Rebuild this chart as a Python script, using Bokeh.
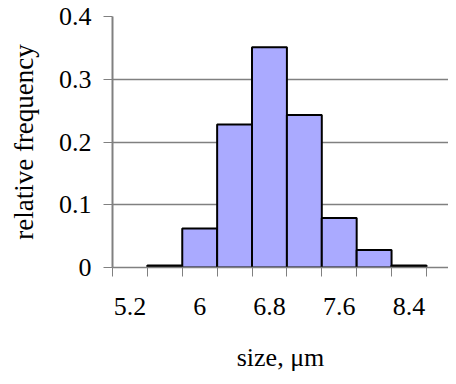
from bokeh.plotting import figure
from bokeh.models import FixedTicker, Range1d, CustomJSTickFormatter
from bokeh.embed import file_html
from bokeh.resources import INLINE

# data
bin_centers = [5.6, 6.0, 6.4, 6.8, 7.2, 7.6, 8.0, 8.4]
rel_freq = [0.003, 0.062, 0.228, 0.351, 0.243, 0.079, 0.028, 0.003]
bin_width = 0.4
x_tick_values = [5.2, 6.0, 6.8, 7.6, 8.4]
x_minor_ticks = [5.0, 5.4, 5.8, 6.2, 6.6, 7.0, 7.4, 7.8, 8.2, 8.6]
y_tick_values = [0, 0.1, 0.2, 0.3, 0.4]

FONT = "Times"

p = figure(width=448, height=376, output_backend="svg", toolbar_location=None,
           x_range=Range1d(5.0, 8.853), y_range=Range1d(0, 0.4),
           min_border_left=112, min_border_right=0, min_border_top=16,
           min_border_bottom=109)
p.outline_line_color = None
p.background_fill_color = "white"
p.border_fill_color = "white"

p.vbar(x=bin_centers, top=rel_freq, width=bin_width, bottom=0,
       fill_color="#AAAAFF", line_color="black", line_width=2)

fmt = CustomJSTickFormatter(code="return (Math.round(tick*10)/10).toString();")

xa = p.xaxis[0]
xa.ticker = FixedTicker(ticks=x_tick_values, minor_ticks=x_minor_ticks)
xa.formatter = fmt
xa.major_tick_line_color = None
xa.minor_tick_line_color = "#808080"
xa.minor_tick_out = 9
xa.minor_tick_in = 0
xa.axis_line_color = "#808080"
xa.axis_line_width = 1.5
xa.major_label_text_font = FONT
xa.major_label_text_font_size = "26px"
xa.major_label_text_color = "black"
xa.major_label_standoff = 21
xa.axis_label = "size, μm"
xa.axis_label_text_font = FONT
xa.axis_label_text_font_size = "26px"
xa.axis_label_text_font_style = "normal"
xa.axis_label_text_color = "black"
xa.axis_label_standoff = 25

ya = p.yaxis[0]
ya.ticker = FixedTicker(ticks=y_tick_values, minor_ticks=[])
ya.formatter = fmt
ya.major_tick_line_color = "#808080"
ya.major_tick_out = 9
ya.major_tick_in = 0
ya.axis_line_color = "#808080"
ya.axis_line_width = 2
ya.major_label_text_font = FONT
ya.major_label_text_font_size = "26px"
ya.major_label_text_color = "black"
ya.major_label_standoff = 12
ya.axis_label = "relative frequency"
ya.axis_label_text_font = FONT
ya.axis_label_text_font_size = "27px"
ya.axis_label_text_font_style = "normal"
ya.axis_label_text_color = "black"
ya.axis_label_standoff = 17

p.xgrid.grid_line_color = None
p.ygrid.grid_line_color = "#808080"
p.ygrid.grid_line_width = 1.5
p.ygrid.ticker = FixedTicker(ticks=y_tick_values)

open("out.html", "w").write(file_html(p, INLINE))
